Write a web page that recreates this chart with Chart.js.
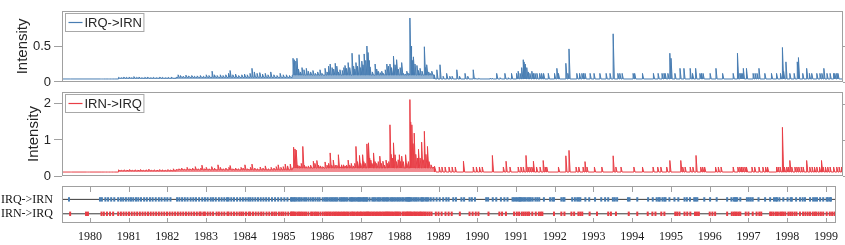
<!DOCTYPE html>
<html><head><meta charset="utf-8">
<script src="https://cdn.jsdelivr.net/npm/chart.js@4/dist/chart.umd.min.js"></script>
<style>
html,body{margin:0;padding:0;background:#fff;}
#wrap{position:relative;width:845px;height:245px;}
canvas{position:absolute;left:0;top:0;}
</style>
</head><body>
<div id="wrap">
<canvas id="c1" width="845" height="245"></canvas>
<canvas id="c2" width="845" height="245"></canvas>
<canvas id="c3" width="845" height="245"></canvas>
</div>
<script>
// ---------------- DATA ----------------
const seriesNames = ['IRQ->IRN', 'IRN->IRQ'];
const xTickYears = [1980,1981,1982,1983,1984,1985,1986,1987,1988,1989,1990,1991,1992,1993,1994,1995,1996,1997,1998,1999];
const xMin = 1979.28, xMax = 1999.26;
const yTicksTop = [0, 0.5];
const yMaxTop = 0.99;
const yTicksMid = [0, 1, 2];
const yMaxMid = 2.33;
const rasterRowValues = [2, 1];            // row of IRQ->IRN, row of IRN->IRQ
const rasterRowLabels = ['IRQ->IRN', 'IRN->IRQ'];

// events of IRQ->IRN : [time (year), intensity peak after the event]
const irqToIrnEvents = [
[1979.46,.042],[1980.26,.042],[1980.31,.042],[1980.40,.042],[1980.47,.042],[1980.55,.042],[1980.63,.042],
[1980.73,.065],[1980.80,.06],[1980.86,.07],[1980.93,.065],[1981.00,.07],[1981.06,.06],[1981.12,.075],[1981.19,.065],[1981.25,.07],[1981.32,.06],[1981.40,.065],[1981.47,.07],[1981.55,.06],[1981.62,.065],[1981.70,.06],[1981.78,.07],[1981.85,.065],[1981.93,.06],[1982.00,.065],[1982.08,.07],
[1982.25,.10],[1982.31,.09],[1982.38,.08],[1982.45,.095],[1982.52,.085],[1982.60,.09],[1982.67,.08],[1982.74,.085],[1982.82,.09],[1982.90,.08],[1982.97,.10],[1983.04,.09],[1983.12,.15],[1983.18,.10],[1983.25,.09],[1983.33,.10],[1983.40,.09],[1983.47,.10],[1983.54,.12],[1983.58,.16],[1983.65,.10],[1983.72,.11],[1983.80,.09],[1983.88,.10],[1983.95,.11],[1984.02,.10],[1984.09,.12],[1984.14,.19],[1984.20,.14],[1984.27,.12],[1984.34,.13],[1984.41,.11],[1984.48,.12],[1984.55,.10],[1984.62,.14],[1984.70,.10],[1984.78,.09],[1984.86,.12],[1984.94,.10],[1985.02,.10],[1985.10,.09],
[1985.19,.33],[1985.22,.31],[1985.26,.29],[1985.29,.33],[1985.33,.18],[1985.38,.14],[1985.42,.20],[1985.47,.17],[1985.53,.19],[1985.58,.15],[1985.64,.14],[1985.70,.16],[1985.76,.12],[1985.82,.14],[1985.88,.17],[1985.93,.12],[1986.01,.19],[1986.06,.14],[1986.10,.22],[1986.14,.25],[1986.19,.20],[1986.23,.18],[1986.27,.26],[1986.31,.22],[1986.35,.14],[1986.39,.17],[1986.45,.16],[1986.49,.20],[1986.52,.23],[1986.56,.19],[1986.60,.27],[1986.64,.20],[1986.70,.40],[1986.74,.22],[1986.77,.18],[1986.80,.27],[1986.84,.22],[1986.88,.38],[1986.92,.20],[1986.95,.29],[1986.98,.24],[1987.01,.39],[1987.05,.30],[1987.08,.50],[1987.11,.41],[1987.14,.30],[1987.16,.21],[1987.22,.14],[1987.29,.25],[1987.33,.18],[1987.37,.15],[1987.42,.13],[1987.46,.15],[1987.50,.12],[1987.55,.17],[1987.59,.25],[1987.63,.22],[1987.67,.25],[1987.71,.20],[1987.76,.36],[1987.80,.24],[1987.84,.31],[1987.88,.18],[1987.93,.20],[1987.97,.27],[1988.01,.12],[1988.06,.11],[1988.10,.15],[1988.15,.12],[1988.18,.89],[1988.21,.50],[1988.23,.35],[1988.25,.30],[1988.27,.35],[1988.31,.25],[1988.36,.23],[1988.40,.16],[1988.44,.19],[1988.49,.15],[1988.55,.49],[1988.58,.20],[1988.61,.24],[1988.66,.14],[1988.70,.12],[1988.74,.15],[1988.80,.10],
[1988.87,.17],[1988.95,.24],[1989.03,.08],[1989.12,.12],[1989.20,.08],[1989.26,.08],[1989.38,.17],[1989.45,.08],[1989.59,.12],[1989.66,.08],[1989.80,.17],[1989.86,.05],[1989.94,.05],[1990.23,.05],[1990.28,.05],[1990.40,.12],[1990.49,.06],[1990.61,.12],[1990.70,.06],[1990.78,.12],[1990.91,.12],[1990.95,.15],[1991.00,.12],[1991.04,.20],[1991.08,.31],[1991.10,.28],[1991.13,.25],[1991.17,.20],[1991.21,.14],[1991.25,.12],[1991.30,.15],[1991.34,.12],[1991.38,.12],[1991.43,.12],[1991.50,.12],[1991.55,.12],[1991.60,.12],[1991.72,.12],[1991.88,.12],[1991.94,.19],[1991.98,.12],[1992.17,.26],[1992.22,.12],[1992.25,.46],[1992.45,.12],[1992.52,.12],[1992.58,.12],[1992.62,.12],[1992.66,.12],[1992.79,.12],[1992.89,.12],[1993.04,.12],[1993.20,.12],[1993.30,.12],[1993.38,.67],[1993.50,.12],[1993.55,.12],[1993.61,.12],[1993.89,.12],[1993.93,.12],[1994.13,.12],[1994.41,.12],[1994.53,.12],[1994.63,.12],[1994.68,.12],[1994.71,.12],[1994.78,.12],[1994.83,.40],[1994.86,.33],[1994.96,.12],[1995.09,.19],[1995.19,.19],[1995.35,.19],[1995.41,.12],[1995.49,.19],[1995.60,.12],[1995.64,.12],[1995.68,.12],[1995.86,.12],[1996.01,.19],[1996.18,.12],[1996.45,.12],[1996.56,.40],[1996.62,.12],[1996.65,.12],[1996.68,.12],[1996.71,.19],[1996.79,.19],[1996.96,.12],[1997.01,.12],[1997.06,.12],[1997.11,.19],[1997.26,.12],[1997.43,.12],[1997.56,.12],[1997.66,.12],[1997.71,.48],[1997.74,.15],[1997.80,.28],[1997.90,.12],[1998.01,.12],[1998.09,.28],[1998.12,.34],[1998.23,.12],[1998.33,.19],[1998.40,.12],[1998.46,.12],[1998.59,.12],[1998.67,.12],[1998.72,.12],[1998.77,.19],[1998.85,.12],[1998.93,.12],[1999.02,.12],[1999.05,.12],[1999.10,.12],[1999.13,.12]
];
// events of IRN->IRQ : [time (year), intensity peak after the event]
const irnToIrqEvents = [
[1979.49,.11],[1979.90,.11],[1979.95,.11],[1980.30,.11],[1980.36,.11],[1980.44,.11],[1980.52,.11],[1980.60,.11],
[1980.73,.17],[1980.80,.16],[1980.87,.17],[1980.94,.16],[1981.01,.18],[1981.08,.16],[1981.15,.17],[1981.22,.16],[1981.29,.18],[1981.36,.16],[1981.43,.17],[1981.50,.19],[1981.57,.16],[1981.64,.17],[1981.71,.16],[1981.78,.18],[1981.85,.17],[1981.92,.16],[1981.99,.18],[1982.06,.17],[1982.13,.20],[1982.20,.18],[1982.27,.20],[1982.34,.22],[1982.41,.19],[1982.48,.24],[1982.55,.20],[1982.62,.22],[1982.69,.26],[1982.76,.20],[1982.83,.22],[1982.86,.30],[1982.93,.20],[1982.97,.24],[1983.04,.20],[1983.11,.26],[1983.18,.22],[1983.27,.31],[1983.33,.24],[1983.40,.20],[1983.47,.22],[1983.55,.24],[1983.58,.29],[1983.65,.20],[1983.72,.22],[1983.79,.20],[1983.86,.24],[1983.91,.22],[1983.96,.31],[1984.03,.20],[1984.10,.24],[1984.14,.33],[1984.21,.22],[1984.28,.20],[1984.35,.25],[1984.42,.22],[1984.48,.28],[1984.56,.20],[1984.63,.24],[1984.70,.22],[1984.76,.26],[1984.81,.31],[1984.88,.24],[1984.94,.26],[1984.99,.33],[1985.05,.28],[1985.12,.33],
[1985.19,.80],[1985.21,.78],[1985.24,.75],[1985.27,.72],[1985.31,.30],[1985.36,.28],[1985.40,.35],[1985.44,.82],[1985.48,.30],[1985.53,.26],[1985.58,.28],[1985.64,.30],[1985.71,.41],[1985.75,.35],[1985.80,.43],[1985.84,.30],[1985.89,.28],[1985.95,.26],[1986.01,.39],[1986.06,.30],[1986.10,.35],[1986.14,.64],[1986.18,.30],[1986.22,.44],[1986.27,.30],[1986.31,.30],[1986.35,.59],[1986.39,.26],[1986.43,.31],[1986.48,.31],[1986.52,.28],[1986.56,.30],[1986.60,.44],[1986.64,.30],[1986.68,.35],[1986.73,.28],[1986.77,.35],[1986.80,.82],[1986.84,.40],[1986.89,.57],[1986.92,.35],[1986.97,.59],[1987.00,.40],[1987.04,.35],[1987.08,.89],[1987.12,.92],[1987.15,.50],[1987.18,.44],[1987.21,.35],[1987.25,.64],[1987.29,.40],[1987.33,.35],[1987.37,.40],[1987.41,.55],[1987.45,.35],[1987.49,.41],[1987.53,.30],[1987.57,.44],[1987.61,.35],[1987.64,.40],[1987.67,1.42],[1987.70,.60],[1987.73,.50],[1987.76,.92],[1987.80,.59],[1987.84,.40],[1987.88,.45],[1987.91,.59],[1987.94,.40],[1987.97,.55],[1988.01,.40],[1988.07,.59],[1988.10,.35],[1988.14,.40],[1988.18,2.12],[1988.20,1.50],[1988.23,1.42],[1988.26,.90],[1988.29,1.19],[1988.33,.60],[1988.37,.50],[1988.40,.74],[1988.44,.50],[1988.48,.94],[1988.52,.45],[1988.55,1.24],[1988.59,.60],[1988.63,.82],[1988.67,.40],[1988.72,.31],[1988.77,.25],
[1988.82,.27],[1988.93,.25],[1989.00,.25],[1989.08,.25],[1989.18,.25],[1989.26,.25],[1989.34,.25],[1989.55,.41],[1989.80,.25],[1989.88,.25],[1989.96,.25],[1990.03,.25],[1990.29,.57],[1990.57,.25],[1990.64,.41],[1990.74,.25],[1990.95,.25],[1991.02,.25],[1991.08,.25],[1991.15,.57],[1991.20,.25],[1991.25,.25],[1991.30,.25],[1991.34,.41],[1991.42,.25],[1991.51,.25],[1991.59,.43],[1991.64,.25],[1991.68,.25],[1991.98,.25],[1992.17,.56],[1992.25,.71],[1992.43,.25],[1992.50,.25],[1992.61,.25],[1992.66,.40],[1992.71,.25],[1992.90,.25],[1993.09,.25],[1993.38,.56],[1993.45,.25],[1993.58,.25],[1993.91,.25],[1994.13,.25],[1994.40,.25],[1994.52,.25],[1994.60,.25],[1994.75,.25],[1994.83,.43],[1995.11,.43],[1995.16,.25],[1995.22,.25],[1995.35,.25],[1995.42,.25],[1995.50,.57],[1995.62,.25],[1995.67,.25],[1995.72,.25],[1996.00,.25],[1996.07,.25],[1996.14,.25],[1996.45,.25],[1996.57,.25],[1996.62,.25],[1996.66,.25],[1996.70,.25],[1996.75,.25],[1996.79,.25],[1996.93,.25],[1997.00,.25],[1997.11,.25],[1997.21,.25],[1997.28,.25],[1997.33,.25],[1997.56,.25],[1997.60,.25],[1997.65,.25],[1997.71,1.35],[1997.76,.25],[1997.82,.25],[1997.86,.25],[1997.90,.43],[1997.95,.25],[1998.03,.25],[1998.08,.25],[1998.13,.25],[1998.19,.25],[1998.24,.25],[1998.33,.43],[1998.41,.25],[1998.47,.25],[1998.53,.25],[1998.59,.25],[1998.66,.25],[1998.71,.43],[1998.75,.25],[1998.81,.25],[1998.87,.25],[1998.93,.25],[1999.02,.25],[1999.10,.25],[1999.16,.25],[1999.22,.25]
];
// low (background) level of each intensity, as steps: start time and level
const irqToIrnFloorTimes  = [1979.28, 1980.72, 1982.20, 1985.17, 1988.80];
const irqToIrnFloorLevels = [0.042,   0.052,   0.064,   0.095,   0.042];
const irnToIrqFloorTimes  = [1979.28, 1980.72, 1982.20, 1985.17, 1988.80];
const irnToIrqFloorLevels = [0.11,    0.145,   0.17,    0.22,    0.11];

// ---------------- STYLE ----------------
const BLUE = 'rgb(72,125,178)';
const BLUE_FILL = 'rgba(72,125,178,0.6)';
const RED = 'rgb(232,62,70)';
const RED_FILL = 'rgba(232,62,70,0.6)';
const AXIS_GRAY = '#a0a0a0';
const TXT = '#262626';
const SANS = '"Liberation Sans", Arial, sans-serif';
const SERIF = '"Liberation Serif", "Times New Roman", serif';
const SPIKE_W = 0.03;

function buildIntensity(events, flT, flL) {
  const pts = [];
  let f = flL[0];
  let k = 1;
  pts.push({x: xMin, y: f});
  for (let i = 0; i < events.length; i++) {
    const [t, h] = events[i];
    while (k < flT.length && flT[k] <= t) {
      pts.push({x: flT[k], y: f});
      f = flL[k];
      pts.push({x: flT[k], y: f});
      k++;
    }
    const top = Math.max(h, f);
    const next = i + 1 < events.length ? events[i + 1][0] : xMax;
    pts.push({x: t, y: f}, {x: t, y: top}, {x: Math.min(t + SPIKE_W, next), y: f});
  }
  while (k < flT.length) {
    pts.push({x: flT[k], y: f}); f = flL[k]; pts.push({x: flT[k], y: f}); k++;
  }
  pts.push({x: xMax, y: f});
  return pts;
}

const deco = {
  id: 'panelDeco',
  afterDraw(chart, args, opts) {
    const {ctx, chartArea: a} = chart;
    ctx.save();
    ctx.strokeStyle = AXIS_GRAY;
    ctx.lineWidth = 1;
    if (opts.rightTicks) {
      const ys = chart.scales.y;
      ctx.beginPath();
      for (const t of ys.ticks) {
        const y = Math.round(ys.getPixelForValue(t.value)) + 0.5;
        ctx.moveTo(a.right, y); ctx.lineTo(a.right + 8, y);
      }
      ctx.stroke();
    }
    if (opts.innerXTicks) {
      const xs = chart.scales.x;
      ctx.beginPath();
      for (const v of xTickYears) {
        const x = Math.round(xs.getPixelForValue(v)) + 0.5;
        ctx.moveTo(x, a.top); ctx.lineTo(x, a.top + 6);
        ctx.moveTo(x, a.bottom); ctx.lineTo(x, a.bottom - 5);
      }
      ctx.stroke();
    }
    ctx.strokeRect(Math.round(a.left) + 0.5, Math.round(a.top) + 0.5,
                   Math.round(a.right - a.left) - 1, Math.round(a.bottom - a.top) - 1);
    if (opts.legend) {
      const ds = chart.data.datasets[0];
      ctx.font = '13px ' + SANS;
      const tw = ctx.measureText(ds.label).width;
      const bx = Math.round(a.left) + 3.5, by = Math.round(a.top) + 2.5;
      const bw = 19 + tw + 2, bh = 18;
      ctx.fillStyle = '#fff';
      ctx.fillRect(bx, by, bw, bh);
      ctx.strokeStyle = '#a8a8a8';
      ctx.strokeRect(bx, by, bw, bh);
      const cy = by + bh / 2;
      ctx.strokeStyle = ds.borderColor;
      ctx.lineWidth = 1.2;
      ctx.beginPath(); ctx.moveTo(bx + 3, cy); ctx.lineTo(bx + 17, cy); ctx.stroke();
      ctx.fillStyle = TXT;
      ctx.textBaseline = 'middle';
      ctx.textAlign = 'left';
      ctx.fillText(ds.label, bx + 19, cy + 0.5);
    }
    ctx.restore();
  }
};

function intensityChart(id, label, events, flT, flL, color, fillColor, yMax, yTicks, padTop, padBottom, titlePad) {
  return new Chart(document.getElementById(id), {
    type: 'line',
    data: { datasets: [{
      label: label,
      data: buildIntensity(events, flT, flL),
      borderColor: color,
      backgroundColor: fillColor,
      borderWidth: 1,
      pointRadius: 0,
      tension: 0,
      fill: {value: flL[0]}
    }]},
    options: {
      responsive: false, animation: false, events: [], devicePixelRatio: 1,
      layout: {padding: {left: 0, right: 2, top: padTop, bottom: padBottom}},
      plugins: {legend: {display: false}, tooltip: {enabled: false},
        panelDeco: {legend: true, rightTicks: true}},
      scales: {
        x: {type: 'linear', min: xMin, max: xMax, display: false},
        y: {type: 'linear', min: 0, max: yMax,
          afterBuildTicks: s => { s.ticks = yTicks.map(v => ({value: v})); },
          afterFit: s => { s.width = 62; },
          border: {display: false},
          grid: {drawOnChartArea: false, drawTicks: true, tickLength: 8, color: AXIS_GRAY},
          ticks: {padding: 3, color: TXT, font: {family: SANS, size: 13}, callback: v => String(v)},
          title: {display: true, text: 'Intensity', color: TXT, font: {family: SANS, size: 15},
                  padding: {top: titlePad, bottom: 0}}
        }
      }
    },
    plugins: [deco]
  });
}

intensityChart('c1', seriesNames[0], irqToIrnEvents, irqToIrnFloorTimes, irqToIrnFloorLevels,
               BLUE, BLUE_FILL, yMaxTop, yTicksTop, 1, 163, 14);
intensityChart('c2', seriesNames[1], irnToIrqEvents, irnToIrqFloorTimes, irnToIrqFloorLevels,
               RED, RED_FILL, yMaxMid, yTicksMid, 92, 69, 25);

// raster
new Chart(document.getElementById('c3'), {
  type: 'line',
  data: { datasets: [
    {data: [{x: xMin, y: rasterRowValues[0]}, {x: xMax, y: rasterRowValues[0]}], borderColor: '#3a3a3a', borderWidth: 1, pointRadius: 0, order: 3},
    {data: [{x: xMin, y: rasterRowValues[1]}, {x: xMax, y: rasterRowValues[1]}], borderColor: '#3a3a3a', borderWidth: 1, pointRadius: 0, order: 3},
    {data: irqToIrnEvents.map(e => ({x: e[0], y: rasterRowValues[0]})), showLine: false,
     pointStyle: 'line', rotation: 90, pointRadius: 2.2, pointBorderWidth: 2, borderColor: BLUE, backgroundColor: BLUE, order: 1},
    {data: irnToIrqEvents.map(e => ({x: e[0], y: rasterRowValues[1]})), showLine: false,
     pointStyle: 'line', rotation: 90, pointRadius: 2.2, pointBorderWidth: 2, borderColor: RED, backgroundColor: RED, order: 1}
  ]},
  options: {
    responsive: false, animation: false, events: [], devicePixelRatio: 1,
    layout: {padding: {left: 0, right: 2, top: 186, bottom: 0}},
    plugins: {legend: {display: false}, tooltip: {enabled: false},
      panelDeco: {legend: false, rightTicks: false, innerXTicks: true}},
    scales: {
      x: {type: 'linear', min: xMin, max: xMax,
        afterBuildTicks: s => { s.ticks = xTickYears.map(v => ({value: v})); },
        afterFit: s => { s.height = 22; },
        border: {display: false},
        grid: {drawOnChartArea: false, drawTicks: false},
        ticks: {padding: 7, color: '#1a1a1a', font: {family: SERIF, size: 12}, maxRotation: 0, autoSkip: false,
                callback: v => String(v)}
      },
      y: {type: 'linear', min: 0.36, max: 2.93,
        afterBuildTicks: s => { s.ticks = rasterRowValues.map(v => ({value: v})); },
        afterFit: s => { s.width = 62; },
        border: {display: false},
        grid: {drawOnChartArea: false, drawTicks: false},
        ticks: {padding: 9, color: '#111', font: {family: SERIF, size: 12},
                callback: v => rasterRowLabels[rasterRowValues.indexOf(v)]}
      }
    }
  },
  plugins: [deco]
});
</script>
</body></html>
